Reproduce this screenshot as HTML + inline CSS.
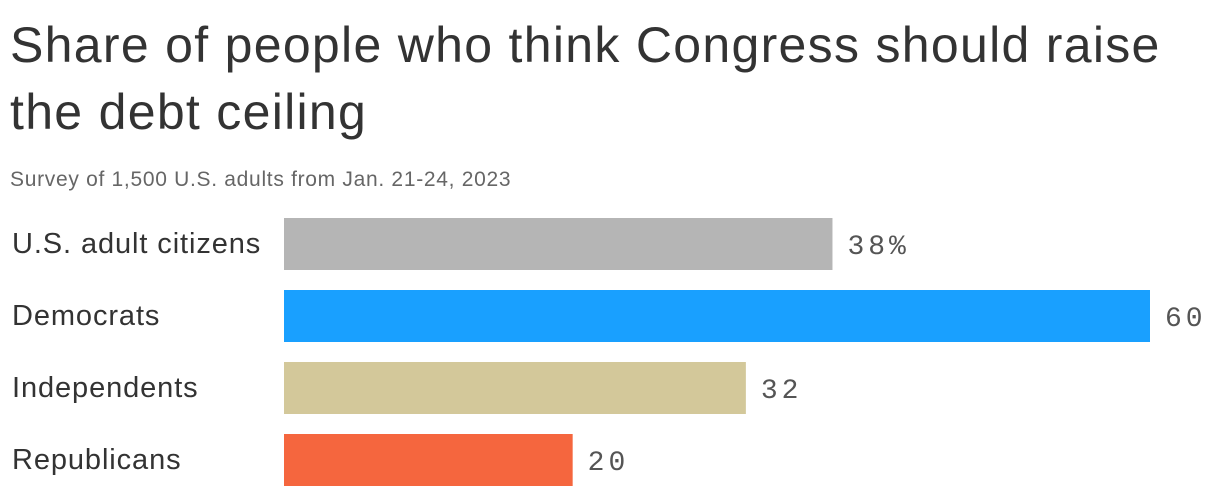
<!DOCTYPE html>
<html><head><meta charset="utf-8"><style>
body{margin:0;width:1220px;height:496px;background:#fff;font-family:"Liberation Sans",sans-serif;color:#333;overflow:hidden;position:relative}
#title{position:absolute;left:10px;top:12px;font-size:50px;line-height:67px;margin:0;font-weight:normal;color:#333;letter-spacing:1.3px}
#sub{position:absolute;left:10px;top:168px;font-size:21px;color:#666;letter-spacing:0.7px}
svg{position:absolute;left:0;top:0}
</style></head><body>
<h1 id="title">Share of people who think Congress should raise<br>the debt ceiling</h1>
<div id="sub">Survey of 1,500 U.S. adults from Jan. 21-24, 2023</div>
<svg id="chart" width="1220" height="496"></svg>
<script>
const categories=["U.S. adult citizens","Democrats","Independents","Republicans"];
const values=[38,60,32,20];
const valueLabels=["38%","60","32","20"];
const colors=["#b5b5b5","#19a0ff","#d3c89a","#f5663e"];
const NS="http://www.w3.org/2000/svg";
const svg=document.getElementById("chart");
const x0=284,xMax=1150,y0=218,pitch=72,bh=52;
function xs(v){return x0+(xMax-x0)*v/60;}
function ys(i){return y0+i*pitch;}
categories.forEach((c,i)=>{
  const t=document.createElementNS(NS,"text");
  
  
  t.setAttribute("x",12);t.setAttribute("y",ys(i)+bh/2+9);
  t.setAttribute("font-size","29");t.setAttribute("fill","#333");
  t.setAttribute("letter-spacing","0.9");
  t.setAttribute("font-family","Liberation Sans, sans-serif");
  t.textContent=c;svg.appendChild(t);
  const r=document.createElementNS(NS,"rect");
  
  
  r.setAttribute("x",x0);r.setAttribute("y",ys(i));
  r.setAttribute("width",xs(values[i])-x0);r.setAttribute("height",bh);
  r.setAttribute("fill",colors[i]);svg.appendChild(r);
  const v=document.createElementNS(NS,"text");
  
  
  v.setAttribute("x",xs(values[i])+15);v.setAttribute("y",ys(i)+bh/2+10);
  v.setAttribute("font-size","28");v.setAttribute("fill","#555");
  v.setAttribute("letter-spacing","4");
  v.setAttribute("font-family","Liberation Mono, monospace");
  v.textContent=valueLabels[i];svg.appendChild(v);
});
</script>
</body></html>
